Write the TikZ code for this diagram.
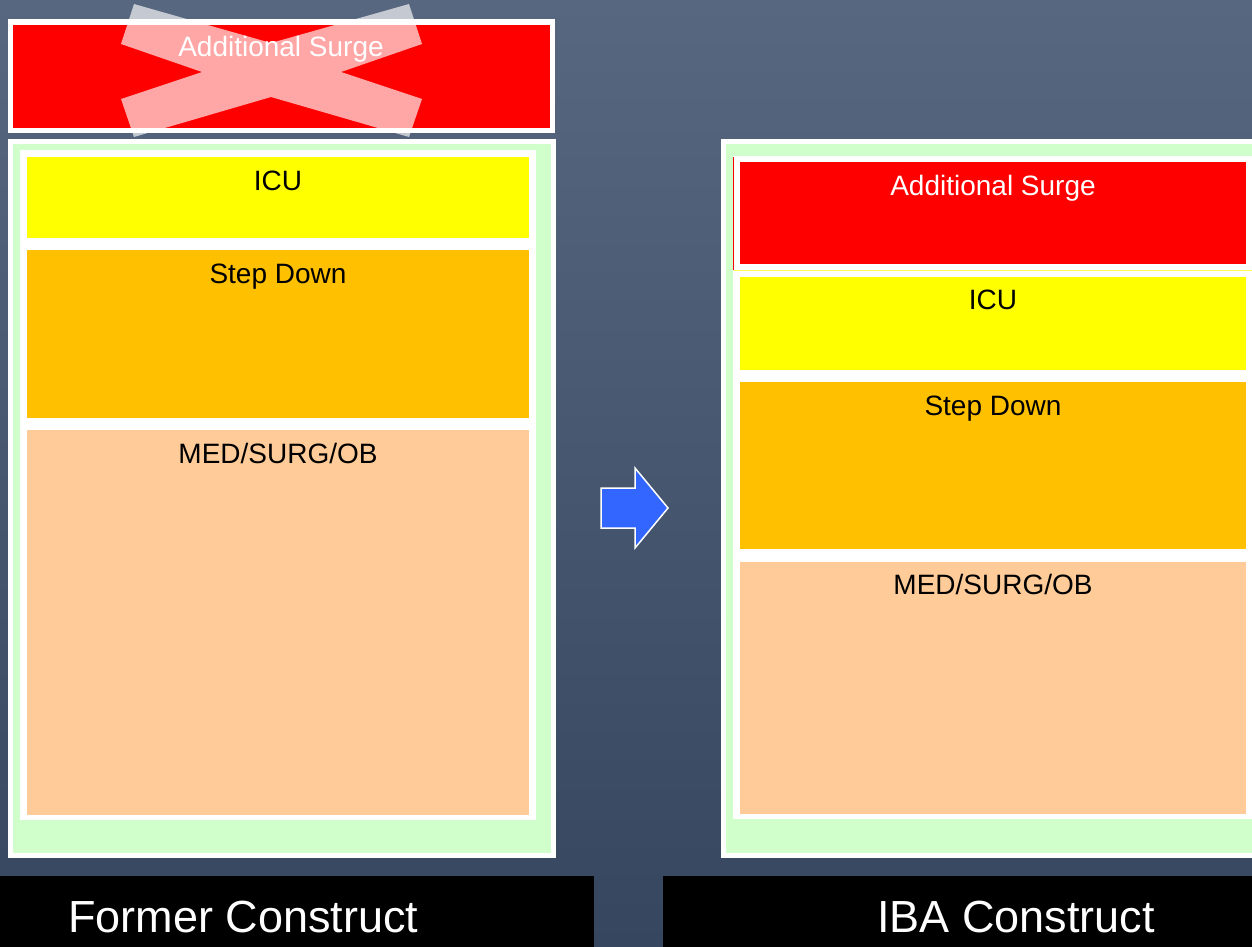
\documentclass[tikz,border=0pt]{standalone}
\usepackage{fontspec}
\setmainfont{Liberation Sans}
\begin{document}
\begin{tikzpicture}[x=1pt,y=-1pt,
  box/.style={inner sep=0pt, outer sep=0pt, anchor=north west, draw=none},
  lbl/.style={anchor=base, inner sep=0pt, text=black, font=\fontsize{28}{30}\selectfont},
  ttl/.style={anchor=base west, inner sep=0pt, text=white, font=\fontsize{45}{50}\selectfont}]
\definecolor{bgtop}{RGB}{88,103,128}
\definecolor{bgbot}{RGB}{54,70,94}
\definecolor{surgered}{RGB}{255,0,0}
\definecolor{icuyel}{RGB}{255,255,0}
\definecolor{steporg}{RGB}{255,192,0}
\definecolor{medpeach}{RGB}{255,204,153}
\definecolor{panelgreen}{RGB}{208,255,204}
\definecolor{arrowblue}{RGB}{51,102,255}
\useasboundingbox (0,0) rectangle (1252,947);
\clip (0,0) rectangle (1252,947);
\shade[top color=bgtop, bottom color=bgbot] (0,0) rectangle (1252,947);

% ---------- left column ----------
\node[box, fill=white, minimum width=547pt, minimum height=114pt] (lsurgeframe) at (8,19) {};
\node[box, fill=surgered, minimum width=537pt, minimum height=103pt] (lsurge) at (13,25) {};
\node[lbl, text=white] (lsurgetxt) at (281,57) {Additional Surge};

\node[box, fill=white, minimum width=548pt, minimum height=719pt] (lpanel) at (8,139) {};
\node[box, fill=panelgreen, minimum width=538pt, minimum height=709pt] (lgreen) at (13,144) {};
\node[box, fill=white, minimum width=516pt, minimum height=670pt] (linner) at (20,150) {};
\node[box, fill=icuyel, minimum width=502pt, minimum height=81pt] (licu) at (27,157) {};
\node[box, fill=steporg, minimum width=502pt, minimum height=168pt] (lstep) at (27,250) {};
\node[box, fill=medpeach, minimum width=502pt, minimum height=385pt] (lmed) at (27,430) {};
\node[lbl] (licutxt) at (278,190) {ICU};
\node[lbl] (lsteptxt) at (278,283) {Step Down};
\node[lbl] (lmedtxt) at (278,463) {MED/SURG/OB};

% crossing-out X
\fill[white, fill opacity=0.65] (134,4) -- (271,43) -- (409,4) -- (422,44) -- (341,72) -- (422,99)
  -- (409,137) -- (271,97) -- (134,137) -- (121,99) -- (202,72) -- (121,44) -- cycle;

% ---------- arrow ----------
\draw[white, line width=1.5pt, fill=arrowblue, line join=miter]
  (601,488) -- (635,488) -- (635,468) -- (668,508) -- (635,548) -- (635,528) -- (601,528) -- cycle;

% ---------- right column ----------
\node[box, fill=white, minimum width=545pt, minimum height=719pt] (rpanel) at (721,139) {};
\node[box, fill=panelgreen, minimum width=540pt, minimum height=709pt] (rgreen) at (726,144) {};
\node[box, fill=white, minimum width=525pt, minimum height=663pt] (rinner) at (733,156) {};
\draw[surgered, line width=0.6pt] (733.5,157) -- (733.5,270);
\draw[icuyel!70!white, line width=0.6pt] (733.5,270.5) -- (1252,270.5);
\node[box, fill=surgered, minimum width=506pt, minimum height=102pt] (rsurge) at (740,162) {};
\node[box, fill=icuyel, minimum width=506pt, minimum height=93pt] (ricu) at (740,277) {};
\node[box, fill=steporg, minimum width=506pt, minimum height=167pt] (rstep) at (740,382) {};
\node[box, fill=medpeach, minimum width=506pt, minimum height=252pt] (rmed) at (740,562) {};
\node[lbl, text=white] (rsurgetxt) at (993,195) {Additional Surge};
\node[lbl] (ricutxt) at (993,309) {ICU};
\node[lbl] (rsteptxt) at (993,415) {Step Down};
\node[lbl] (rmedtxt) at (993,594) {MED/SURG/OB};

% ---------- title bars ----------
\node[box, fill=black, minimum width=594pt, minimum height=71pt] (lbar) at (0,876) {};
\node[box, fill=black, minimum width=600pt, minimum height=71pt] (rbar) at (663,876) {};
\node[ttl] (lttl) at (68,932) {Former Construct};
\node[ttl] (rttl) at (877,932) {IBA Construct};
\end{tikzpicture}
\end{document}
